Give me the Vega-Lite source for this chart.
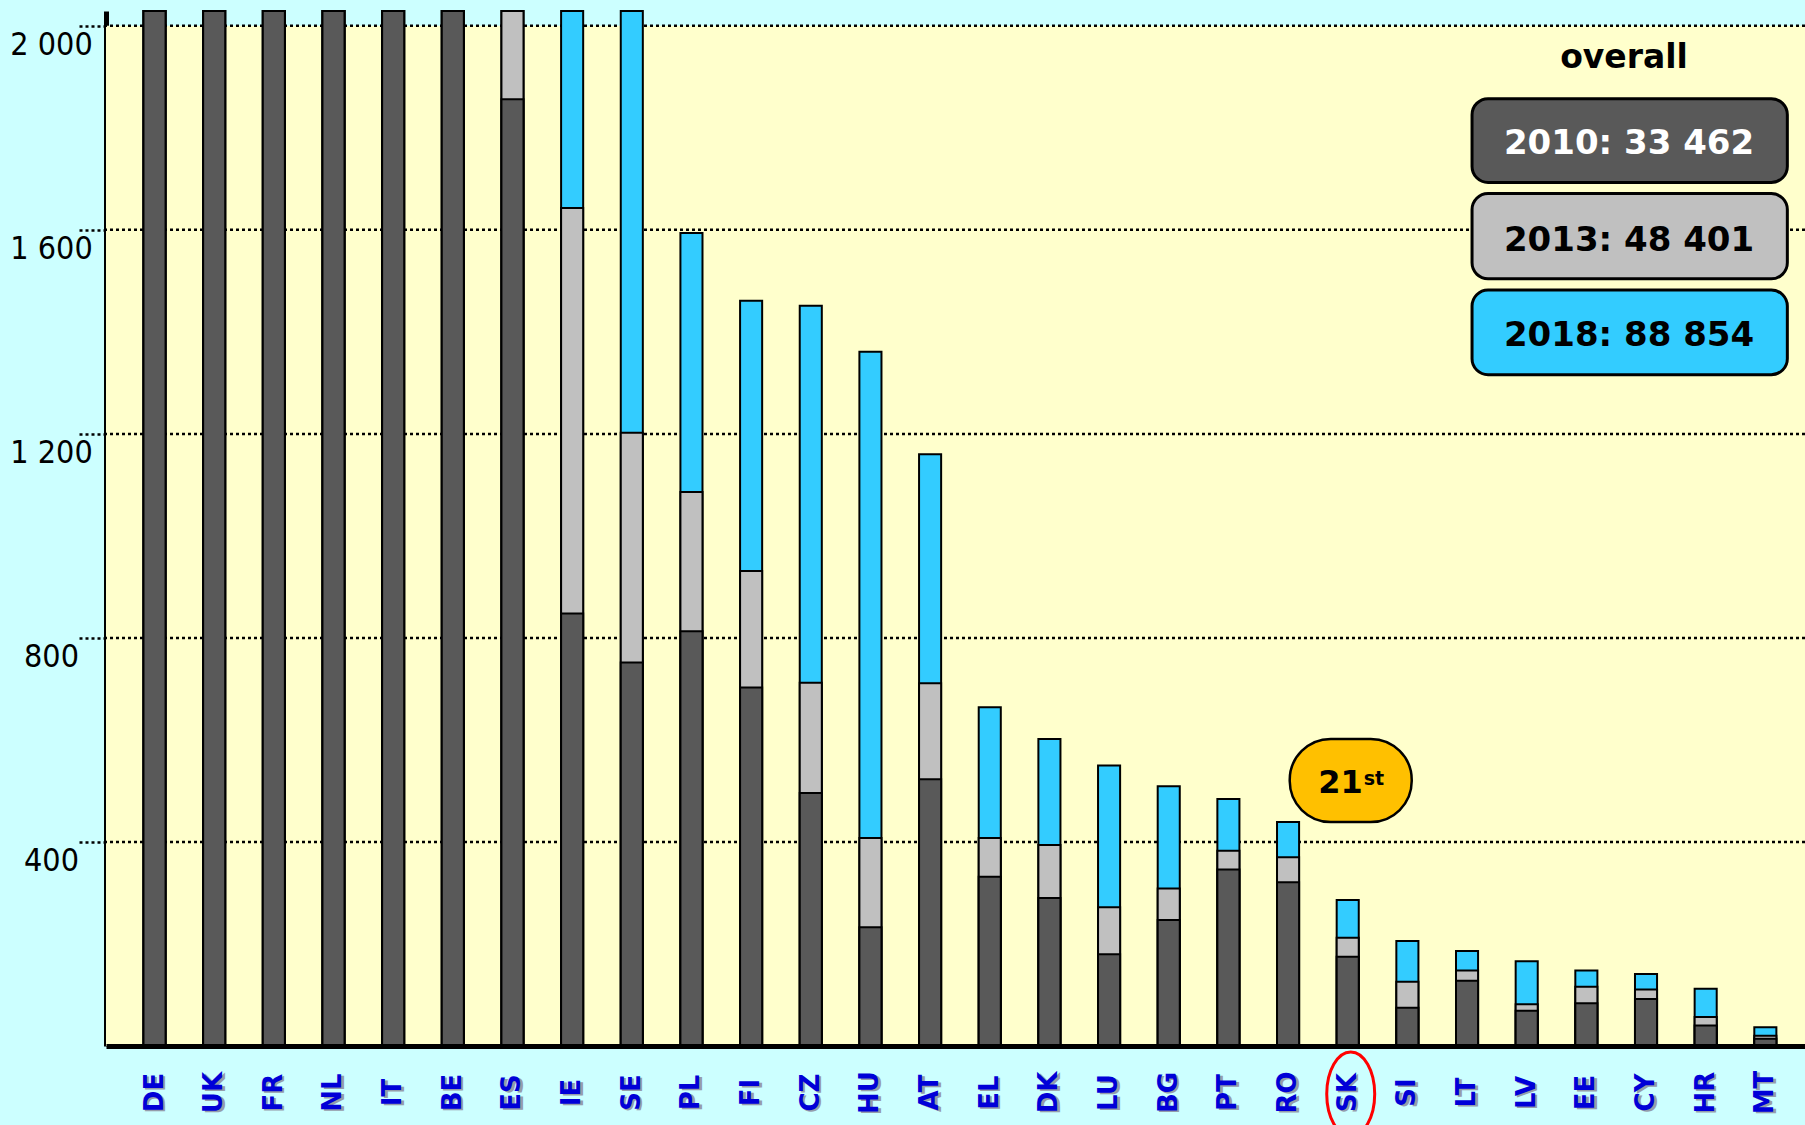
{
  "$schema": "https://vega.github.io/schema/vega-lite/v6.json",
  "width": 1699,
  "height": 1035,
  "autosize": {"type": "none"},
  "padding": {"left": 106, "top": 11, "right": 0, "bottom": 79},
  "background": "#CCFFFF",
  "config": {"view": {"stroke": null}, "font": "DejaVu Sans"},
  "datasets": {
    "bars": [
      {"country": "DE", "2010": 7400, "2013": 10800, "2018": 21497},
      {"country": "UK", "2010": 5200, "2013": 7600, "2018": 15500},
      {"country": "FR", "2010": 4300, "2013": 6400, "2018": 12000},
      {"country": "NL", "2010": 3400, "2013": 5000, "2018": 9000},
      {"country": "IT", "2010": 2500, "2013": 3700, "2018": 6300},
      {"country": "BE", "2010": 2045, "2013": 2900, "2018": 4500},
      {"country": "ES", "2010": 1856, "2013": 2300, "2018": 3300},
      {"country": "IE", "2010": 848, "2013": 1643, "2018": 2700},
      {"country": "SE", "2010": 752, "2013": 1202, "2018": 2500},
      {"country": "PL", "2010": 813, "2013": 1086, "2018": 1594},
      {"country": "FI", "2010": 703, "2013": 931, "2018": 1461},
      {"country": "CZ", "2010": 496, "2013": 712, "2018": 1451},
      {"country": "HU", "2010": 233, "2013": 408, "2018": 1361},
      {"country": "AT", "2010": 523, "2013": 711, "2018": 1160},
      {"country": "EL", "2010": 332, "2013": 408, "2018": 664},
      {"country": "DK", "2010": 290, "2013": 394, "2018": 602},
      {"country": "LU", "2010": 180, "2013": 272, "2018": 550},
      {"country": "BG", "2010": 247, "2013": 309, "2018": 509},
      {"country": "PT", "2010": 346, "2013": 383, "2018": 484},
      {"country": "RO", "2010": 321, "2013": 370, "2018": 439},
      {"country": "SK", "2010": 175, "2013": 212, "2018": 286},
      {"country": "SI", "2010": 75, "2013": 126, "2018": 206},
      {"country": "LT", "2010": 128, "2013": 148, "2018": 186},
      {"country": "LV", "2010": 69, "2013": 82, "2018": 166},
      {"country": "EE", "2010": 84, "2013": 116, "2018": 148},
      {"country": "CY", "2010": 92, "2013": 111, "2018": 141},
      {"country": "HR", "2010": 40, "2013": 57, "2018": 112},
      {"country": "MT", "2010": 14, "2013": 20, "2018": 37}
    ],
    "grid": [{"tick": 400}, {"tick": 800}, {"tick": 1200}, {"tick": 1600}, {"tick": 2000}],
    "totals": [
      {"year": "2010", "total": 33462},
      {"year": "2013", "total": 48401},
      {"year": "2018", "total": 88854}
    ]
  },
  "layer": [
    {
      "data": {"values": [{}]},
      "mark": {"type": "rect", "color": "#FFFFCC"},
      "encoding": {
        "y": {"datum": 0, "type": "quantitative"},
        "y2": {"datum": 2000}
      }
    },
    {
      "data": {"name": "grid"},
      "mark": {"type": "rule", "color": "black", "strokeWidth": 2.5, "strokeDash": [3, 3]},
      "encoding": {"y": {"field": "tick", "type": "quantitative"}}
    },
    {
      "data": {"name": "bars"},
      "transform": [{"fold": ["2018", "2013", "2010"], "as": ["year", "value"]}],
      "mark": {"type": "bar", "stroke": "black", "strokeWidth": 2},
      "encoding": {
        "x": {
          "field": "country",
          "type": "nominal",
          "scale": {
            "domain": ["DE","UK","FR","NL","IT","BE","ES","IE","SE","PL","FI","CZ","HU","AT","EL","DK","LU","BG","PT","RO","SK","SI","LT","LV","EE","CY","HR","MT"],
            "paddingInner": 0.63,
            "paddingOuter": 0.554,
            "align": 0.567
          },
          "axis": {
            "title": null,
            "domainWidth": 5,
            "domainColor": "black",
            "ticks": false,
            "tickSize": 0,
            "labelAngle": 270,
            "labelAlign": "center",
            "labelBaseline": "middle",
            "labelPadding": 46,
            "labelFont": "DejaVu Sans",
            "labelFontWeight": "bold",
            "labelFontSize": 26,
            "labelColor": "#0000D8",
            "labelOverlap": false,
            "zindex": 1
          }
        },
        "y": {
          "field": "value",
          "type": "quantitative",
          "stack": null,
          "scale": {"domain": [0, 2029], "clamp": true, "nice": false, "zero": true},
          "axis": {
            "title": null,
            "values": [400, 800, 1200, 1600, 2000],
            "grid": false,
            "domainWidth": 5,
            "domainColor": "black",
            "tickSize": 28,
            "tickColor": "black",
            "tickWidth": 2.5,
            "tickDash": [3, 3],
            "labelAlign": "center",
            "labelBaseline": "alphabetic",
            "labelPadding": 27,
            "labelOffset": 29,
            "labelFont": "DejaVu Sans Condensed, Roboto, sans-serif",
            "labelFontSize": 32,
            "labelColor": "black",
            "labelExpr": "replace(format(datum.value, ','), ',', ' ')"
          }
        },
        "color": {
          "field": "year",
          "type": "nominal",
          "scale": {"domain": ["2010", "2013", "2018"], "range": ["#595959", "#C0C0C0", "#33CCFF"]},
          "legend": null
        }
      }
    },
    {
      "data": {"name": "bars"},
      "mark": {"type": "text", "angle": 270, "align": "center", "baseline": "middle", "dx": -48, "dy": 2.5, "font": "DejaVu Sans", "fontWeight": "bold", "fontSize": 26, "color": "#8C8C9C", "opacity": 0.85},
      "encoding": {
        "x": {"field": "country", "type": "nominal"},
        "y": {"datum": 0, "type": "quantitative"},
        "text": {"field": "country"}
      }
    },
    {
      "data": {"values": [{}]},
      "mark": {"type": "text", "text": "overall", "font": "DejaVu Sans", "fontWeight": "bold", "fontSize": 33, "color": "black", "align": "center", "baseline": "alphabetic", "dx": -22},
      "encoding": {
        "x": {"datum": "CY"},
        "y": {"datum": 1918, "type": "quantitative"}
      }
    },
    {
      "data": {"name": "totals"},
      "transform": [
        {"calculate": "datum.year + ': ' + replace(format(datum.total, ','), ',', ' ')", "as": "label"}
      ],
      "layer": [
        {
          "transform": [{"filter": "datum.year == '2010'"}],
          "layer": [
            {
              "mark": {"type": "rect", "cornerRadius": 16, "stroke": "black", "strokeWidth": 3, "xOffset": 5, "x2Offset": 22},
              "encoding": {
                "x": {"datum": "LT"}, "x2": {"datum": "MT"},
                "y": {"datum": 1857, "type": "quantitative"}, "y2": {"datum": 1693},
                "color": {"field": "year", "type": "nominal", "legend": null}
              }
            },
            {
              "mark": {"type": "text", "font": "DejaVu Sans", "fontWeight": "bold", "fontSize": 34, "color": "white", "align": "center", "baseline": "alphabetic", "dx": -17},
              "encoding": {"x": {"datum": "CY"}, "y": {"datum": 1748, "type": "quantitative"}, "text": {"field": "label"}}
            }
          ]
        },
        {
          "transform": [{"filter": "datum.year == '2013'"}],
          "layer": [
            {
              "mark": {"type": "rect", "cornerRadius": 16, "stroke": "black", "strokeWidth": 3, "xOffset": 5, "x2Offset": 22},
              "encoding": {
                "x": {"datum": "LT"}, "x2": {"datum": "MT"},
                "y": {"datum": 1671, "type": "quantitative"}, "y2": {"datum": 1504},
                "color": {"field": "year", "type": "nominal", "legend": null}
              }
            },
            {
              "mark": {"type": "text", "font": "DejaVu Sans", "fontWeight": "bold", "fontSize": 34, "color": "black", "align": "center", "baseline": "alphabetic", "dx": -17},
              "encoding": {"x": {"datum": "CY"}, "y": {"datum": 1558, "type": "quantitative"}, "text": {"field": "label"}}
            }
          ]
        },
        {
          "transform": [{"filter": "datum.year == '2018'"}],
          "layer": [
            {
              "mark": {"type": "rect", "cornerRadius": 16, "stroke": "black", "strokeWidth": 3, "xOffset": 5, "x2Offset": 22},
              "encoding": {
                "x": {"datum": "LT"}, "x2": {"datum": "MT"},
                "y": {"datum": 1482, "type": "quantitative"}, "y2": {"datum": 1316},
                "color": {"field": "year", "type": "nominal", "legend": null}
              }
            },
            {
              "mark": {"type": "text", "font": "DejaVu Sans", "fontWeight": "bold", "fontSize": 34, "color": "black", "align": "center", "baseline": "alphabetic", "dx": -17},
              "encoding": {"x": {"datum": "CY"}, "y": {"datum": 1372, "type": "quantitative"}, "text": {"field": "label"}}
            }
          ]
        }
      ]
    },
    {
      "data": {"values": [{}]},
      "layer": [
        {
          "mark": {"type": "rect", "cornerRadius": 41, "fill": "#FFC000", "stroke": "black", "strokeWidth": 2.5, "xOffset": -58, "x2Offset": 64},
          "encoding": {
            "x": {"datum": "SK"}, "x2": {"datum": "SK"},
            "y": {"datum": 602, "type": "quantitative"}, "y2": {"datum": 439}
          }
        },
        {
          "mark": {"type": "text", "text": "21", "font": "DejaVu Sans", "fontWeight": "bold", "fontSize": 32, "color": "black", "align": "right", "baseline": "alphabetic", "dx": 15},
          "encoding": {"x": {"datum": "SK"}, "y": {"datum": 495, "type": "quantitative"}}
        },
        {
          "mark": {"type": "text", "text": "st", "font": "DejaVu Sans", "fontWeight": "bold", "fontSize": 19, "color": "black", "align": "left", "baseline": "alphabetic", "dx": 16},
          "encoding": {"x": {"datum": "SK"}, "y": {"datum": 512, "type": "quantitative"}}
        },
        {
          "mark": {"type": "point", "shape": "M -0.571 0 A 0.571 1 0 1 0 0.571 0 A 0.571 1 0 1 0 -0.571 0 Z", "size": 7056, "filled": false, "stroke": "#FF0000", "strokeWidth": 3, "opacity": 1, "yOffset": 48, "xOffset": 3},
          "encoding": {"x": {"datum": "SK"}, "y": {"datum": 0, "type": "quantitative"}}
        }
      ]
    }
  ]
}
